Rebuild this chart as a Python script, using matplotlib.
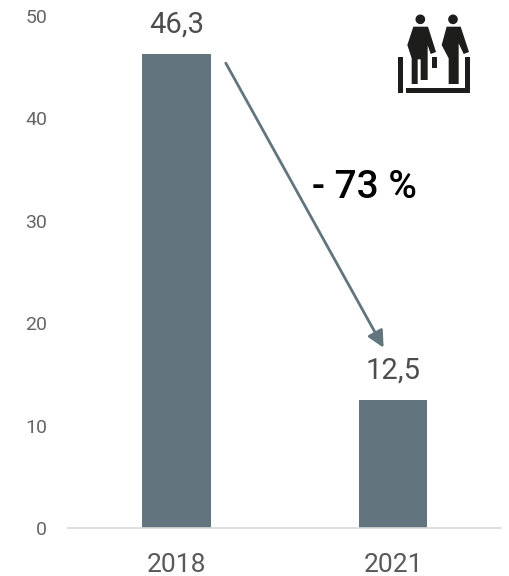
import matplotlib
matplotlib.use("Agg")
import matplotlib.pyplot as plt
from matplotlib.patches import Circle, Polygon, Rectangle

# data
years = ['2018', '2021']
values = [46.3, 12.5]
value_labels = ['46,3', '12,5']
yticks = [0, 10, 20, 30, 40, 50]
change_label = '- 73 %'

bar_color = '#62757e'
text_color = '#595959'
W, H = 510, 576

plt.rcParams['font.family'] = ['Roboto', 'DejaVu Sans']

fig = plt.figure(figsize=(W / 100, H / 100), dpi=100)
ax = fig.add_axes([68 / W, 1 - 528 / H, 433.5 / W, 512 / H])

x = range(len(years))
ax.bar(x, values, width=0.316, color=bar_color)
ax.set_xlim(-0.5, 1.5)
ax.set_ylim(0, 50)
ax.set_xticks(list(x), years)
ax.set_yticks(yticks)
ax.tick_params(axis='both', length=0)
ax.tick_params(axis='x', labelsize=19, pad=18, labelcolor=text_color)
ax.tick_params(axis='y', labelsize=14, pad=15, labelcolor='#666666')

for s in ['top', 'right', 'left']:
    ax.spines[s].set_visible(False)
ax.spines['bottom'].set_color('#d9d9d9')
ax.spines['bottom'].set_linewidth(1.2)

for i, v in enumerate(values):
    ax.annotate(value_labels[i], (i, v), xytext=(0, 15), textcoords='offset pixels',
                ha='center', va='bottom', fontsize=21,
                color='#4d4d4d', annotation_clip=False)

# arrow between the two bars
ax.annotate('', xy=(0.956, 17.6), xytext=(0.228, 45.4),
            arrowprops=dict(arrowstyle='-|>,head_length=1.0,head_width=0.5', color=bar_color,
                            lw=2, shrinkA=0, shrinkB=0))
ax.text(0.869, 33.3, change_label, ha='center', va='center', fontsize=28,
        fontweight='medium', color='black')

# icon, drawn in zoomed pixel units of its own little area
icon = fig.add_axes([380 / W, 1 - 110 / H, 110 / W, 110 / H])
icon.set_xlim(0, 330)
icon.set_ylim(330, 0)
icon.axis('off')
dark = '#1d1d1b'
man = [(100, 80), (144, 80), (168, 156), (152, 162), (143, 136), (143, 240), (122, 240),
       (122, 178), (113, 178), (113, 252), (95, 252), (95, 175), (82, 135)]
woman = [(200, 80), (242, 80), (267, 156), (251, 162), (236, 130), (236, 252), (206, 252),
         (206, 175), (185, 135)]
icon.add_patch(Polygon(man, color=dark, lw=0))
icon.add_patch(Polygon(woman, color=dark, lw=0))
icon.add_patch(Circle((121, 58), 14.5, color=dark, lw=0))
icon.add_patch(Circle((219, 58), 14.5, color=dark, lw=0))
icon.add_patch(Rectangle((155, 170), 15, 33, color=dark, lw=0))
icon.add_patch(Rectangle((55, 170), 15, 108, color=dark, lw=0))
icon.add_patch(Rectangle((78, 265), 192, 13, color=dark, lw=0))
icon.add_patch(Rectangle((255, 170), 15, 108, color=dark, lw=0))

fig.savefig('out.png', dpi=100)
